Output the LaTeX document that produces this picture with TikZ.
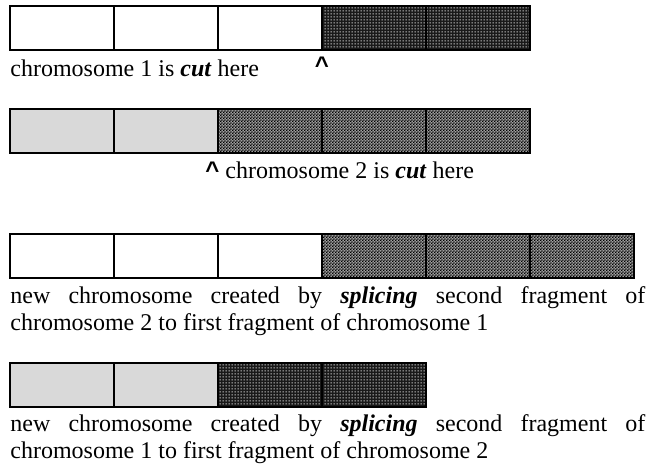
\documentclass[tikz,border=0pt]{standalone}
\usepackage{fontspec}
\setmainfont{Liberation Serif}
\setsansfont{Liberation Sans}
\usetikzlibrary{positioning,patterns}

\pgfdeclarepatternformonly{fine dots}{\pgfpointorigin}{\pgfqpoint{1.5pt}{1.5pt}}{\pgfqpoint{1.5pt}{1.5pt}}{%
    \pgfpathrectangle{\pgfqpoint{0.4pt}{0.4pt}}{\pgfqpoint{0.65pt}{0.65pt}}\pgfusepath{fill}}
\pgfdeclarepatternformonly{fine checks}{\pgfpointorigin}{\pgfqpoint{1.6pt}{1.6pt}}{\pgfqpoint{1.6pt}{1.6pt}}{%
    \pgfpathrectangle{\pgfpointorigin}{\pgfqpoint{0.8pt}{0.8pt}}%
    \pgfpathrectangle{\pgfqpoint{0.8pt}{0.8pt}}{\pgfqpoint{0.8pt}{0.8pt}}\pgfusepath{fill}}

\newcommand{\cutmark}{{\sffamily\bfseries\textasciicircum}}

\begin{document}
\begin{tikzpicture}[x=0.5pt, y=-0.5pt,
    gene/.style={draw, line width=0.9pt, minimum width=52pt, minimum height=22pt, inner sep=0pt, outer sep=0pt},
    plaingene/.style={gene, fill=white},
    palegene/.style={gene, fill=black!15},
    darkgene/.style={gene, preaction={fill=black!90}, pattern=fine dots, pattern color=white},
    checkgene/.style={gene, preaction={fill=black!38}, pattern=fine checks, pattern color=black},
    caption/.style={inner sep=0pt, font=\fontsize{12}{13.8}\selectfont},
    para/.style={caption, anchor=north west, text width=317.5pt, align=justify,
        execute at begin node={\hyphenpenalty=10000 \tolerance=9999}}]
    \useasboundingbox (0,0) rectangle (658,465);

    % chromosome 1
    \node[plaingene] (a1) at (62,28) {};
    \node[plaingene, right=0pt of a1] (a2) {};
    \node[plaingene, right=0pt of a2] (a3) {};
    \node[darkgene, right=0pt of a3] (a4) {};
    \node[darkgene, right=0pt of a4] (a5) {};
    \node[caption, anchor=base west] (cut1) at (10,76) {chromosome 1 is \textbf{\textit{cut}} here};
    \node[caption, anchor=base] (mark1) at (322,74) {\cutmark};

    % chromosome 2
    \node[palegene] (b1) at (62,131) {};
    \node[palegene, right=0pt of b1] (b2) {};
    \node[checkgene, right=0pt of b2] (b3) {};
    \node[checkgene, right=0pt of b3] (b4) {};
    \node[checkgene, right=0pt of b4] (b5) {};
    \node[caption, anchor=base west] (cut2) at (205,178) {\cutmark{} chromosome 2 is \textbf{\textit{cut}} here};

    % first child
    \node[plaingene] (c1) at (62,256) {};
    \node[plaingene, right=0pt of c1] (c2) {};
    \node[plaingene, right=0pt of c2] (c3) {};
    \node[checkgene, right=0pt of c3] (c4) {};
    \node[checkgene, right=0pt of c4] (c5) {};
    \node[checkgene, right=0pt of c5] (c6) {};
    \node[para] (splice1) at (10,286) {new chromosome created by \textbf{\textit{splicing}} second fragment of chromosome 2 to first fragment of chromosome 1};

    % second child
    \node[palegene] (d1) at (62,385) {};
    \node[palegene, right=0pt of d1] (d2) {};
    \node[darkgene, right=0pt of d2] (d3) {};
    \node[darkgene, right=0pt of d3] (d4) {};
    \node[para] (splice2) at (10,414) {new chromosome created by \textbf{\textit{splicing}} second fragment of chromosome 1 to first fragment of chromosome 2};
\end{tikzpicture}
\end{document}
